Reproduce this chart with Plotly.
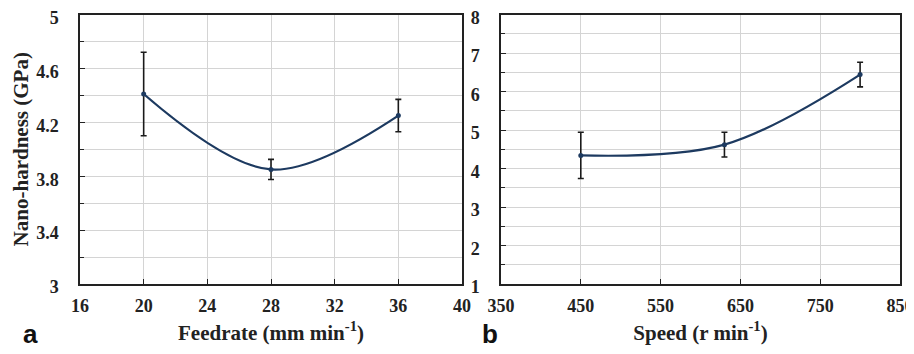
import plotly.graph_objects as go

# Panel a: feedrate
feedrate = [20, 28, 36]
hard_a = [4.41, 3.85, 4.25]
err_a = [0.31, 0.075, 0.12]
xticks_a = [16, 20, 24, 28, 32, 36, 40]
yticks_a = [3, 3.4, 3.8, 4.2, 4.6, 5]

# Panel b: speed
speed = [450, 630, 800]
hard_b = [4.34, 4.62, 6.44]
err_b = [0.60, 0.32, 0.32]
xticks_b = [350, 450, 550, 650, 750, 850]
yticks_b = [1, 2, 3, 4, 5, 6, 7, 8]

line_col = "#1d3a60"
serif = "Liberation Serif"
W, H = 914, 354
OFF = 8  # page offset of the plot div

def bold(vals):
    return ["<b>%s</b>" % (("%g" % v)) for v in vals]

def px(x):
    return (x - OFF) / W

def py(y):
    return (H - (y - OFF)) / H

fig = go.Figure()
fig.add_trace(go.Scatter(
    x=feedrate, y=hard_a, mode="lines+markers",
    line=dict(color=line_col, width=2.2, shape="spline", smoothing=1),
    marker=dict(size=5, color=line_col),
    error_y=dict(type="data", array=err_a, color="#1a1a1a", thickness=1.6, width=3),
    xaxis="x", yaxis="y", showlegend=False))
fig.add_trace(go.Scatter(
    x=speed, y=hard_b, mode="lines+markers",
    line=dict(color=line_col, width=2.2, shape="spline", smoothing=1),
    marker=dict(size=5, color=line_col),
    error_y=dict(type="data", array=err_b, color="#1a1a1a", thickness=1.6, width=3),
    xaxis="x2", yaxis="y2", showlegend=False))

titlefont = dict(family=serif, size=21, color="#222")
tfont = dict(family=serif, size=18, color="#222")
common = dict(showline=True, linecolor="#222", linewidth=1.5, mirror=True,
              ticks="inside", ticklen=5, tickcolor="#222",
              showgrid=True, gridcolor="#d4d4d4", gridwidth=1, zeroline=False,
              tickfont=tfont, automargin=False, ticklabeloverflow="allow")

ydom = [py(284), py(14.5)]

fig.update_layout(
    width=W, height=H,
    margin=dict(l=0, r=0, t=0, b=0),
    plot_bgcolor="white", paper_bgcolor="white",
    xaxis=dict(domain=[px(80), px(462)], range=[16, 40], anchor="y",
               tickvals=xticks_a, ticktext=bold(xticks_a), ticklabelstandoff=5,
               title=dict(text="<b>Feedrate (mm min<sup>-1</sup>)</b>", font=titlefont, standoff=10),
               **common),
    yaxis=dict(domain=ydom, range=[3, 5], anchor="x",
               tickvals=yticks_a, ticktext=bold(yticks_a), ticklabelstandoff=16,
               ticklabelshift=3,
               minor=dict(dtick=0.2, ticks="inside", ticklen=4, tickcolor="#222",
                          showgrid=True, gridcolor="#d4d4d4"),
               title=dict(text="<b>Nano-hardness (GPa)</b>", font=titlefont, standoff=2),
               **common),
    xaxis2=dict(domain=[px(501), px(900)], range=[350, 850], anchor="y2",
                tickvals=xticks_b, ticktext=bold(xticks_b), ticklabelstandoff=5,
                title=dict(text="<b>Speed (r min<sup>-1</sup>)</b>", font=titlefont, standoff=10),
                **common),
    yaxis2=dict(domain=ydom, range=[1, 8], anchor="x2",
                tickvals=yticks_b, ticktext=bold(yticks_b), ticklabelstandoff=16,
                ticklabelshift=3,
                minor=dict(dtick=0.5, ticks="inside", ticklen=4, tickcolor="#222",
                           showgrid=True, gridcolor="#d4d4d4"),
                **common),
    annotations=[
        dict(text="<b>a</b>", x=px(30), y=py(334), xref="paper", yref="paper",
             xanchor="center", yanchor="middle",
             showarrow=False, font=dict(family="Liberation Sans", size=26, color="#111")),
        dict(text="<b>b</b>", x=px(490), y=py(334), xref="paper", yref="paper",
             xanchor="center", yanchor="middle",
             showarrow=False, font=dict(family="Liberation Sans", size=26, color="#111")),
    ],
)

fig.write_html("out.html")
